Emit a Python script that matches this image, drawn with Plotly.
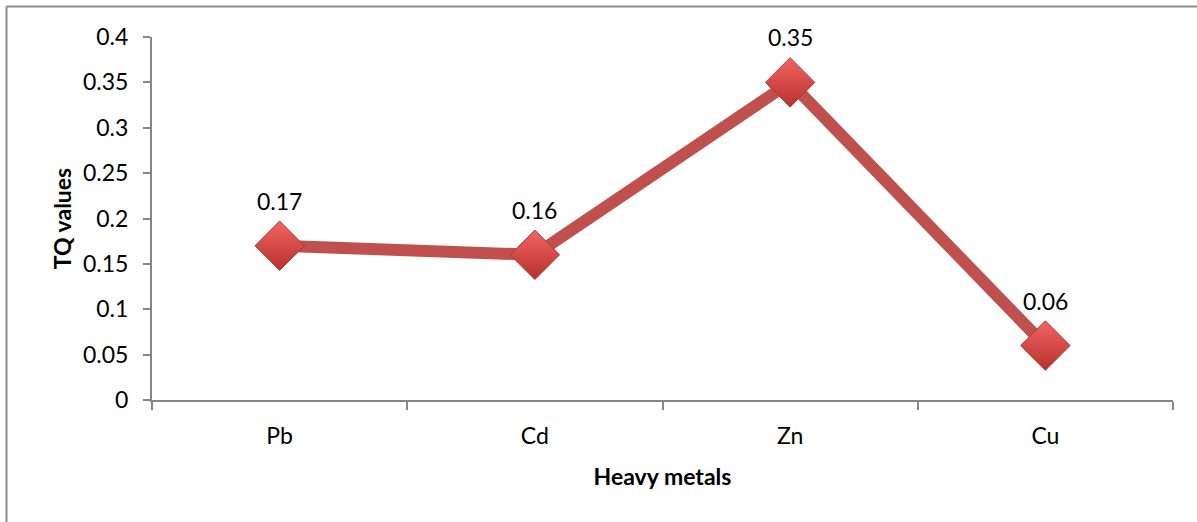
import plotly.graph_objects as go

# Hazard quotient (TQ) by heavy metal
metals = ["Pb", "Cd", "Zn", "Cu"]
tq_values = [0.17, 0.16, 0.35, 0.06]
y_ticks = [0, 0.05, 0.1, 0.15, 0.2, 0.25, 0.3, 0.35, 0.4]
y_tick_text = ["0", "0.05", "0.1", "0.15", "0.2", "0.25", "0.3", "0.35", "0.4"]

W, H = 1197, 522
M_L, M_R, M_T, M_B = 152, 24, 37, 122
FONT = "Lato"
FS = 23
AXIS_GRAY = "#878787"

fig = go.Figure()
fig.add_trace(go.Scatter(
    x=metals,
    y=tq_values,
    mode="lines+markers",
    line=dict(color="#c0504d", width=12),
    marker=dict(
        symbol="diamond",
        size=38,
        color="#f26563",
        gradient=dict(type="vertical", color="#b8302d"),
        line=dict(color="#a53b38", width=1),
    ),
    hoverinfo="x+y",
    showlegend=False,
))

# value labels above each point
for m, v in zip(metals, tq_values):
    fig.add_annotation(
        x=m, y=v, text=f"{v:g}", showarrow=False,
        yshift=45, font=dict(family=FONT, size=FS, color="#000000"),
    )

# outer chart frame (left and top edges)
pw = W - M_L - M_R
ph = H - M_T - M_B
fx0 = (6.5 - M_L) / pw
fy1 = 1 + (M_T - 6.5) / ph
fy0 = -(M_B + 5) / ph
fig.add_shape(type="line", xref="paper", yref="paper",
              x0=fx0, x1=fx0, y0=fy0, y1=fy1,
              line=dict(color="#8c8c8c", width=2))
fig.add_shape(type="line", xref="paper", yref="paper",
              x0=fx0, x1=1 + (M_R + 5) / pw, y0=fy1, y1=fy1,
              line=dict(color="#8c8c8c", width=2))

fig.update_layout(
    width=W, height=H,
    margin=dict(l=M_L, r=M_R, t=M_T, b=M_B, pad=0),
    paper_bgcolor="white",
    plot_bgcolor="white",
    font=dict(family=FONT, size=FS, color="#000000"),
    xaxis=dict(
        type="category",
        range=[-0.5, 3.5],
        showgrid=False,
        showline=True, linecolor=AXIS_GRAY, linewidth=2,
        ticks="outside", tickson="boundaries", ticklen=8,
        tickcolor=AXIS_GRAY, tickwidth=1.5,
        ticklabelstandoff=14,
        tickfont=dict(family=FONT, size=FS),
        title=dict(text="<b>Heavy metals</b>", font=dict(family=FONT, size=FS), standoff=21),
        zeroline=False,
    ),
    yaxis=dict(
        range=[0, 0.4],
        tickvals=y_ticks,
        ticktext=y_tick_text,
        showgrid=False,
        showline=True, linecolor=AXIS_GRAY, linewidth=2,
        ticks="outside", ticklen=7, tickcolor=AXIS_GRAY, tickwidth=1.5,
        ticklabelstandoff=10,
        tickfont=dict(family=FONT, size=FS),
        title=dict(text="<b>TQ values</b>", font=dict(family=FONT, size=FS), standoff=5),
        zeroline=False,
    ),
)

fig.write_html("out.html")
